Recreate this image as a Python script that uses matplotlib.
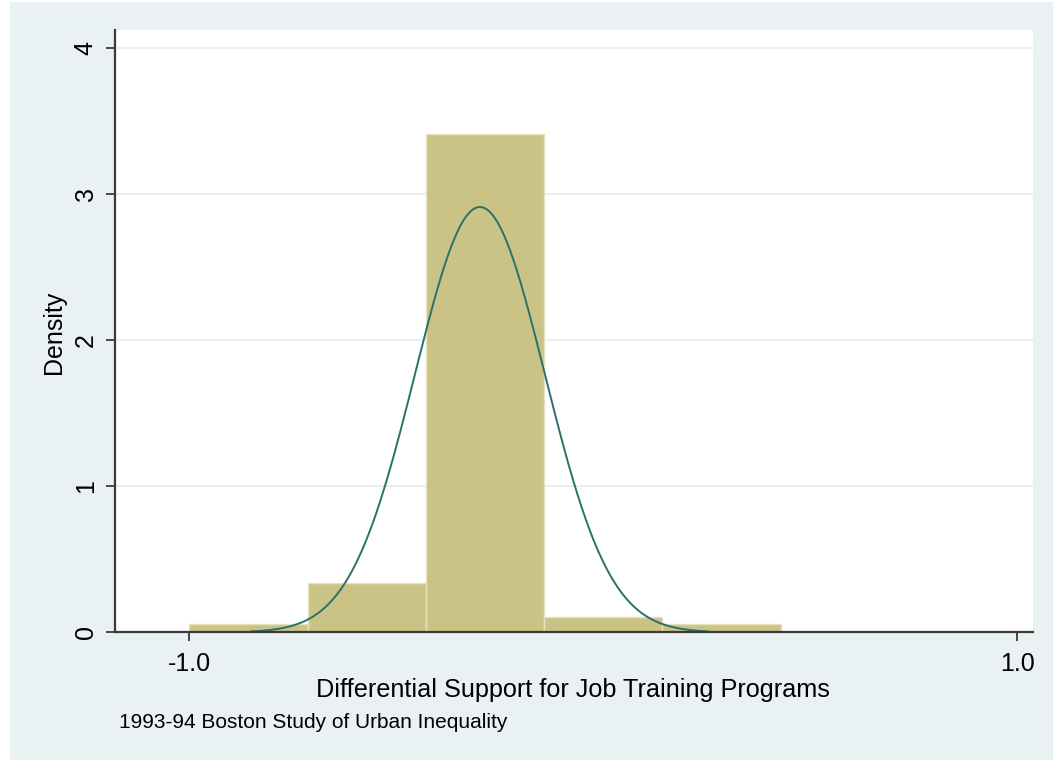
import numpy as np
import matplotlib
matplotlib.use("Agg")
import matplotlib.pyplot as plt
from matplotlib.patches import Rectangle

plt.rcParams["font.family"] = ["Liberation Sans", "DejaVu Sans"]

# Histogram: 7 equal-width bins over [-1, 1], heights on the density scale
bin_low = -1.0
bin_high = 1.0
bin_density = [0.059, 0.34, 3.41, 0.107, 0.057, 0.011, 0.011]

# Overlaid normal curve
curve_mean = -0.298
curve_sd = 0.157
curve_peak = 2.91
curve_from = -0.85
curve_to = 0.253

x_ticks = [-1.0, 1.0]
x_tick_labels = ["-1.0", "1.0"]
y_ticks = [0, 1, 2, 3, 4]
y_tick_labels = ["0", "1", "2", "3", "4"]

x_title = "Differential Support for Job Training Programs"
y_title = "Density"
note = "1993-94 Boston Study of Urban Inequality"

BG = "#E9F1F3"
BAR = "#CBC386"
BAR_EDGE = "#E7E2BE"
LINE = "#2B716B"
AXIS = "#3A3A3A"

W, H = 1053, 760
fig = plt.figure(figsize=(W / 100, H / 100), dpi=100, facecolor="white")
# outer graph region
fig.patches.append(Rectangle((10 / W, 0), 1 - 10 / W, 1 - 2 / H,
                             transform=fig.transFigure, facecolor=BG,
                             edgecolor="none", zorder=-5))

left, right, top, bottom = 115, 1033, 30, 632.3
ax = fig.add_axes([left / W, (H - bottom) / H, (right - left) / W, (bottom - top) / H])
ax.set_facecolor("white")

px_per_x = (1017.3 - 189.3) / 2.0
ax.set_xlim(-1.0 - (189.3 - left) / px_per_x, 1.0 + (right - 1017.3) / px_per_x)
px_per_y = (632.3 - 47.7) / 4.0
ax.set_ylim(0, (bottom - top) / px_per_y)

# gridlines behind the bars
for yv in y_ticks[1:]:
    ax.axhline(yv, color="#E6EEF1", lw=1.3, zorder=0.5)

n_bins = len(bin_density)
edges = np.linspace(bin_low, bin_high, n_bins + 1)
ax.bar(edges[:-1], bin_density, width=np.diff(edges), align="edge",
       color=BAR, edgecolor=BAR_EDGE, linewidth=1.0, zorder=2)

xs = np.linspace(curve_from, curve_to, 400)
ys = curve_peak * np.exp(-0.5 * ((xs - curve_mean) / curve_sd) ** 2)
ax.plot(xs, ys, color=LINE, lw=1.4, zorder=3)

for s in ["top", "right"]:
    ax.spines[s].set_visible(False)
for s in ["left", "bottom"]:
    ax.spines[s].set_color(AXIS)
    ax.spines[s].set_linewidth(1.6)
    ax.spines[s].set_zorder(4)

ax.set_xticks(x_ticks)
ax.set_xticklabels(x_tick_labels, fontsize=18)
ax.set_yticks(y_ticks)
ax.set_yticklabels(y_tick_labels, fontsize=18, rotation=90, va="center")
ax.tick_params(axis="x", length=6.5, width=1.3, color=AXIS, pad=7.5)
ax.tick_params(axis="y", length=6.5, width=1.3, color=AXIS, pad=6)

ax.set_xlabel(x_title, fontsize=18.2)
ax.xaxis.set_label_coords((573 - left) / (right - left), (bottom - 690) / (bottom - top))
ax.xaxis.label.set_va("center")
ax.set_ylabel(y_title, fontsize=18)
ax.yaxis.set_label_coords((54 - left) / (right - left), (bottom - 332) / (bottom - top))
ax.yaxis.label.set_va("center")

fig.text(119 / W, (H - 723) / H, note, fontsize=15, va="center", ha="left")

fig.savefig("out.png", dpi=100, facecolor="white")
